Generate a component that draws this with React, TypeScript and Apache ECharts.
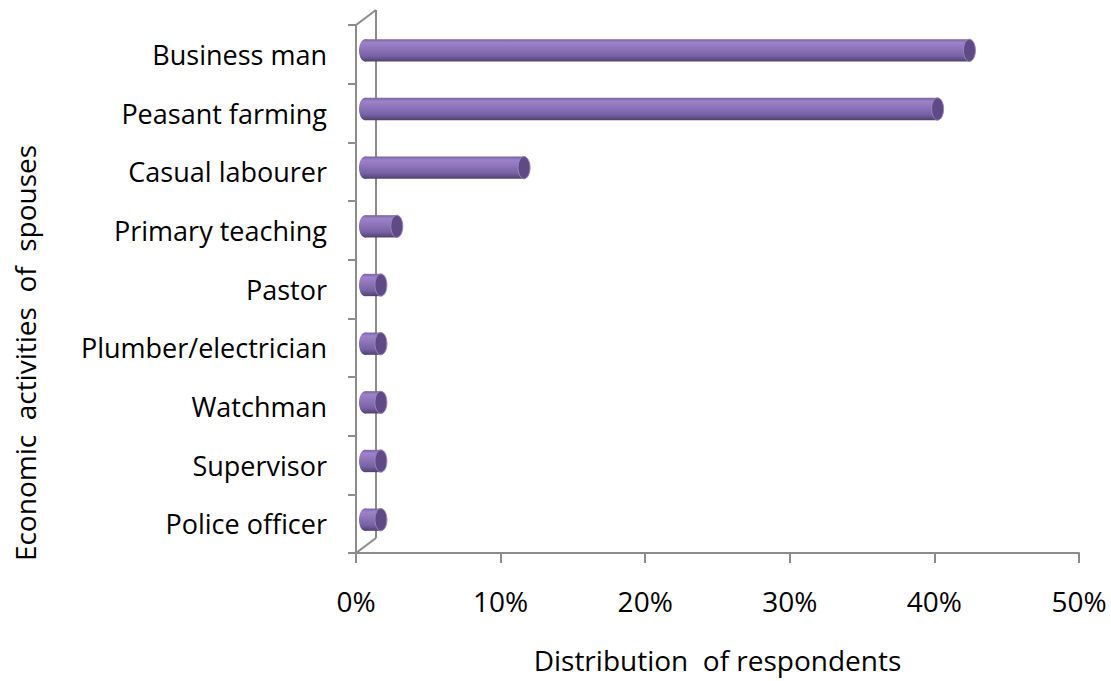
import React, { useEffect, useRef } from "react";
import * as echarts from "echarts";

const categories = [
  "Business man",
  "Peasant farming",
  "Casual labourer",
  "Primary teaching",
  "Pastor",
  "Plumber/electrician",
  "Watchman",
  "Supervisor",
  "Police officer",
];
const values = [41.8, 39.6, 11.0, 2.2, 1.1, 1.1, 1.1, 1.1, 1.1];
const xTicks = { min: 0, max: 50, interval: 10 };
const xTitle = "Distribution  of respondents";
const yTitle = "Economic  activities  of  spouses";

const FONT = "Open Sans";
const AXIS_COLOR = "#8c8c8c";

export default function App() {
  const ref = useRef<HTMLDivElement>(null);
  useEffect(() => {
    document.body.style.margin = "0";
    const chart = echarts.init(ref.current!, null, { renderer: "svg" });
    const bodyGrad = () =>
      new echarts.graphic.LinearGradient(0, 0, 0, 1, [
        { offset: 0, color: "#7a63a3" },
        { offset: 0.15, color: "#9c82c8" },
        { offset: 0.4, color: "#9075bc" },
        { offset: 0.75, color: "#7762a3" },
        { offset: 1, color: "#513f72" },
      ]);
    const depth = 20;
    const rise = 15;
    chart.setOption({
      animation: false,
      grid: { left: 356, right: 32, top: 25, bottom: 128, containLabel: false },
      graphic: [
        {
          type: "text",
          x: 25,
          y: 353,
          rotation: Math.PI / 2,
          style: {
            text: yTitle,
            fill: "#000",
            fontFamily: FONT,
            fontSize: 28,
            align: "center",
            verticalAlign: "middle",
          },
        },
      ],
      xAxis: {
        type: "value",
        min: xTicks.min,
        max: xTicks.max,
        interval: xTicks.interval,
        splitLine: { show: false },
        axisLine: { show: true, lineStyle: { color: AXIS_COLOR, width: 2 } },
        axisTick: { show: true, length: 10, lineStyle: { color: AXIS_COLOR, width: 2 } },
        axisLabel: {
          formatter: "{value}%",
          color: "#000",
          fontFamily: FONT,
          fontSize: 28,
          margin: 34,
        },
        name: xTitle,
        nameLocation: "middle",
        nameGap: 93,
        nameTextStyle: { color: "#000", fontFamily: FONT, fontSize: 28 },
      },
      yAxis: {
        type: "category",
        data: categories,
        inverse: true,
        axisLine: { show: true, lineStyle: { color: AXIS_COLOR, width: 2 } },
        axisTick: { show: true, length: 8, lineStyle: { color: AXIS_COLOR, width: 2 } },
        axisLabel: {
          color: "#000",
          fontFamily: FONT,
          fontSize: 27,
          margin: 29,
        },
      },
      series: [
        {
          type: "custom",
          z: 1,
          silent: true,
          data: [[0, 0]],
          renderItem: (params: any) => {
            const cs = params.coordSys;
            const x0 = cs.x;
            const yTop = cs.y;
            const yBot = cs.y + cs.height;
            const style = { stroke: AXIS_COLOR, lineWidth: 2, fill: "none" };
            return {
              type: "group",
              children: [
                { type: "line", shape: { x1: x0 + depth, y1: yTop - rise, x2: x0 + depth, y2: yBot - rise }, style },
                { type: "line", shape: { x1: x0, y1: yTop, x2: x0 + depth, y2: yTop - rise }, style },
                { type: "line", shape: { x1: x0, y1: yBot, x2: x0 + depth, y2: yBot - rise }, style },
              ],
            };
          },
        },
        {
          type: "custom",
          z: 5,
          data: values.map((v, i) => [v, i]),
          encode: { x: 0, y: 1 },
          renderItem: (params: any, api: any) => {
            const v = api.value(0);
            const idx = api.value(1);
            const start = api.coord([0, idx]);
            const end = api.coord([v, idx]);
            const h = api.size([0, 1])[1] * 0.38;
            const off = 9;
            const x0 = start[0] + off;
            const x1 = end[0] + off;
            const yc = start[1] - 4;
            const rx = Math.min(6, h / 3);
            return {
              type: "group",
              children: [
                {
                  type: "ellipse",
                  shape: { cx: x0, cy: yc, rx, ry: h / 2 },
                  style: { fill: bodyGrad() },
                },
                {
                  type: "rect",
                  shape: { x: x0, y: yc - h / 2, width: Math.max(0, x1 - x0), height: h },
                  style: { fill: bodyGrad() },
                },
                {
                  type: "ellipse",
                  shape: { cx: x1, cy: yc, rx, ry: h / 2 },
                  style: { fill: "#5f4a86", stroke: "#9a86bf", lineWidth: 1 },
                },
              ],
            };
          },
        },
      ],
    });
    return () => chart.dispose();
  }, []);
  return <div ref={ref} style={{ width: 1111, height: 681 }} />;
}
